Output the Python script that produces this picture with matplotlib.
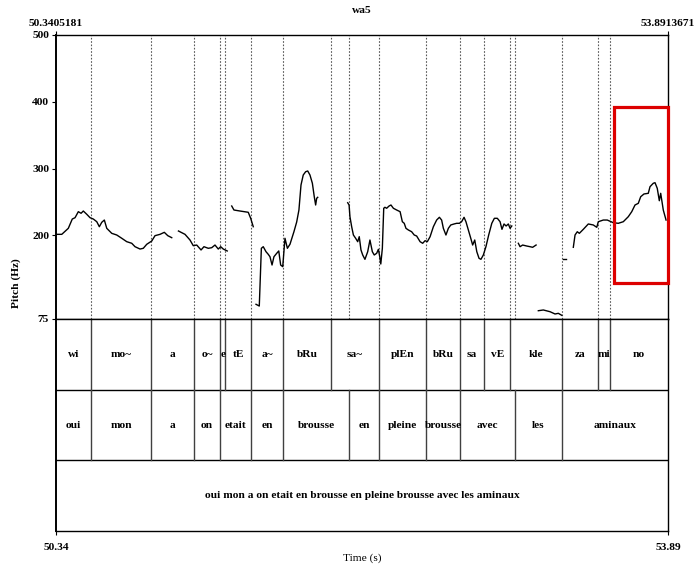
import matplotlib
matplotlib.use("Agg")
import matplotlib.pyplot as plt
from matplotlib.patches import Rectangle

# Praat-like picture: pitch contour + TextGrid (phones, words, sentence)
plt.rcParams['font.family'] = ['Liberation Serif', 'DejaVu Serif']
plt.rcParams['font.weight'] = 'bold'
plt.rcParams['font.size'] = 8.2

t_start = 50.3405181
t_end = 53.8913671

# pitch contour, one list per voiced stretch (time s, F0 Hz)
seg1_t = [50.341, 50.374, 50.412, 50.435, 50.451, 50.470, 50.486, 50.499, 50.519, 50.538,
          50.557, 50.577, 50.592, 50.606, 50.621, 50.635, 50.664, 50.693, 50.722, 50.751,
          50.780, 50.799, 50.828, 50.847, 50.867, 50.896, 50.915, 50.944, 50.969, 50.989, 51.012]
seg1_hz = [201.7, 201.7, 210.7, 224.6, 226.6, 235.6, 233.2, 236.6, 231.7, 226.6,
           224.6, 220.6, 213.1, 219.7, 223.1, 210.7, 203.2, 200.7, 195.8, 190.7,
           188.3, 183.2, 179.7, 180.8, 186.8, 191.7, 199.7, 201.7, 204.7, 199.7, 196.7]

seg2_t = [51.051, 51.089, 51.118, 51.137, 51.157, 51.182, 51.199, 51.224, 51.244, 51.263,
          51.282, 51.296, 51.311, 51.334]
seg2_hz = [206.7, 201.7, 193.2, 184.7, 185.7, 178.3, 183.2, 180.8, 181.7, 185.7,
           179.7, 183.2, 179.7, 176.8]

seg3_t = [51.360, 51.373, 51.408, 51.456, 51.470, 51.485]
seg3_hz = [244.1, 238.1, 236.6, 234.7, 225.7, 213.1]

seg4_t = [51.501, 51.520, 51.532, 51.543, 51.559, 51.572, 51.582, 51.594, 51.605, 51.621,
          51.633, 51.644, 51.656, 51.669, 51.683, 51.698, 51.721, 51.737, 51.750, 51.762,
          51.775, 51.789, 51.801, 51.814, 51.828, 51.839, 51.847, 51.853, 51.859]
seg4_hz = [97.0, 94.4, 180.8, 183.2, 175.7, 171.8, 168.2, 155.8, 168.2, 173.3,
           176.8, 155.8, 153.3, 195.8, 180.8, 186.8, 205.6, 220.2, 238.1, 275.5,
           290.5, 295.4, 296.5, 290.5, 278.1, 258.0, 245.6, 255.6, 257.1]

seg5_t = [52.033, 52.041, 52.046, 52.056, 52.066, 52.079, 52.091, 52.100, 52.110, 52.120,
          52.133, 52.149, 52.162, 52.176, 52.187, 52.201, 52.211, 52.219, 52.225, 52.234,
          52.242, 52.249, 52.259, 52.273, 52.284, 52.298, 52.317, 52.337, 52.350, 52.361,
          52.371, 52.385, 52.404, 52.419, 52.433, 52.453, 52.468, 52.482, 52.495, 52.511,
          52.530, 52.549, 52.565, 52.578, 52.588, 52.603, 52.617, 52.631, 52.650, 52.665,
          52.681, 52.694, 52.708, 52.719, 52.733, 52.747, 52.758, 52.770, 52.782, 52.795,
          52.806, 52.820, 52.835, 52.851, 52.869, 52.884, 52.901, 52.917, 52.928, 52.940,
          52.952, 52.965, 52.975, 52.985]
seg5_hz = [249.0, 245.6, 228.1, 213.1, 200.7, 195.8, 190.7, 198.2, 178.3, 170.8,
           164.3, 175.7, 193.2, 175.7, 170.8, 173.3, 179.3, 168.2, 157.3, 180.8,
           240.7, 242.2, 240.7, 244.1, 245.6, 240.7, 238.1, 235.6, 220.6, 218.2,
           210.7, 208.2, 205.6, 200.7, 199.2, 190.7, 188.3, 192.2, 190.7, 198.2,
           213.1, 223.1, 227.2, 223.1, 210.7, 200.7, 210.7, 215.7, 217.2, 218.2,
           218.2, 220.6, 227.2, 220.6, 208.2, 195.8, 185.7, 193.2, 175.7, 165.8,
           164.3, 170.8, 183.2, 200.7, 218.2, 225.7, 225.7, 220.6, 209.2, 217.2,
           214.2, 217.2, 210.7, 214.2]

seg6_t = [53.023, 53.033, 53.048, 53.072, 53.091, 53.106, 53.126]
seg6_hz = [188.3, 183.2, 185.7, 184.2, 183.2, 182.3, 185.7]

seg7_t = [53.139, 53.168, 53.207, 53.236, 53.255, 53.275]
seg7_hz = [87.4, 88.5, 85.9, 82.5, 83.5, 80.5]

seg8_t = [53.281, 53.300]
seg8_hz = [164.3, 164.3]

seg9_t = [53.342, 53.352, 53.365, 53.377, 53.400, 53.429, 53.458, 53.478, 53.487, 53.516,
          53.539, 53.574, 53.603, 53.632, 53.661, 53.681, 53.700, 53.719, 53.733, 53.752,
          53.777, 53.787, 53.806, 53.816, 53.829, 53.841, 53.849, 53.864, 53.880]
seg9_hz = [182.3, 200.7, 205.6, 203.2, 209.2, 217.2, 215.7, 212.2, 220.6, 223.1,
           223.1, 219.1, 218.2, 220.6, 228.1, 235.6, 245.6, 248.1, 258.0, 262.1,
           263.1, 273.0, 278.1, 279.0, 270.6, 252.0, 263.1, 238.1, 223.1]

segments = [(seg1_t, seg1_hz), (seg2_t, seg2_hz), (seg3_t, seg3_hz), (seg4_t, seg4_hz),
            (seg5_t, seg5_hz), (seg6_t, seg6_hz), (seg7_t, seg7_hz), (seg8_t, seg8_hz),
            (seg9_t, seg9_hz)]

# TextGrid tiers
phone_bounds = [t_start, 50.542, 50.894, 51.143, 51.292, 51.323, 51.474, 51.659, 51.934,
                52.213, 52.489, 52.685, 52.826, 52.975, 53.276, 53.485, 53.555, t_end]
phone_labels = ['wi', 'mo~', 'a', 'o~', 'e', 'tE', 'a~', 'bRu', 'sa~', 'plEn', 'bRu',
                'sa', 'vE', 'kle', 'za', 'mi', 'no']
word_bounds = [t_start, 50.542, 50.894, 51.143, 51.292, 51.474, 51.659, 52.042, 52.213,
               52.489, 52.685, 53.005, 53.276, t_end]
word_labels = ['oui', 'mon', 'a', 'on', 'etait', 'en', 'brousse', 'en', 'pleine',
               'brousse', 'avec', 'les', 'aminaux']
sentence = 'oui mon a on etait en brousse en pleine brousse avec les aminaux'

# highlighted region
box_t = (53.578, t_end)
box_hz = (129, 392)

W, H = 697, 564
fig = plt.figure(figsize=(W / 100, H / 100), dpi=100)
ax = fig.add_axes([56 / W, 1 - 319 / H, 612 / W, 284 / H])
tax = fig.add_axes([56 / W, 1 - 531 / H, 612 / W, 212 / H])

# pitch panel
for tb in sorted(set(phone_bounds[1:-1]) | set(word_bounds[1:-1])):
    ax.axvline(tb, color='0.35', lw=0.8, linestyle=(0, (1.5, 1.5)))
for st, sh in segments:
    ax.plot(st, sh, color='black', lw=1.0)
ax.add_patch(Rectangle((box_t[0], box_hz[0]), box_t[1] - box_t[0], box_hz[1] - box_hz[0],
                       fill=False, edgecolor='#dd0000', lw=2.3, clip_on=False, zorder=5))
ax.set_xlim(t_start, t_end)
ax.set_ylim(75, 500)
ax.set_yticks([75, 200, 300, 400, 500])
ax.set_yticklabels(['75', '200', '300', '400', '500'])
ax.xaxis.tick_top()
ax.set_xticks([t_start, t_end])
ax.set_xticklabels(['50.3405181', '53.8913671'])
ax.tick_params(length=3, width=0.8, pad=2)
for sp in ax.spines.values():
    sp.set_linewidth(1.0)
ax.spines['left'].set_linewidth(1.4)
ax.set_title('wa5', pad=16, fontsize=8.2, fontweight='bold')
fig.text(16 / W, 1 - 283 / H, 'Pitch (Hz)', rotation=90, ha='center', va='center')

# tiers
tax.set_xlim(t_start, t_end)
tax.set_ylim(0, 3)
tax.axhline(1, color='black', lw=1.0)
tax.axhline(2, color='black', lw=1.0)
for tb in phone_bounds[1:-1]:
    tax.plot([tb, tb], [2, 3], color='0.25', lw=1.0)
for tb in word_bounds[1:-1]:
    tax.plot([tb, tb], [1, 2], color='0.25', lw=1.0)
for i, lab in enumerate(phone_labels):
    tax.text((phone_bounds[i] + phone_bounds[i + 1]) / 2, 2.5, lab, ha='center', va='center')
for i, lab in enumerate(word_labels):
    tax.text((word_bounds[i] + word_bounds[i + 1]) / 2, 1.5, lab, ha='center', va='center')
tax.text((t_start + t_end) / 2, 0.5, sentence, ha='center', va='center')
tax.set_yticks([])
tax.set_xticks([t_start, t_end])
tax.set_xticklabels(['50.34', '53.89'])
tax.tick_params(length=3, width=0.8, pad=6)
for sp in tax.spines.values():
    sp.set_linewidth(1.0)
tax.spines['left'].set_linewidth(1.4)
tax.set_xlabel('Time (s)', labelpad=1)

fig.savefig('out.png', dpi=100)
